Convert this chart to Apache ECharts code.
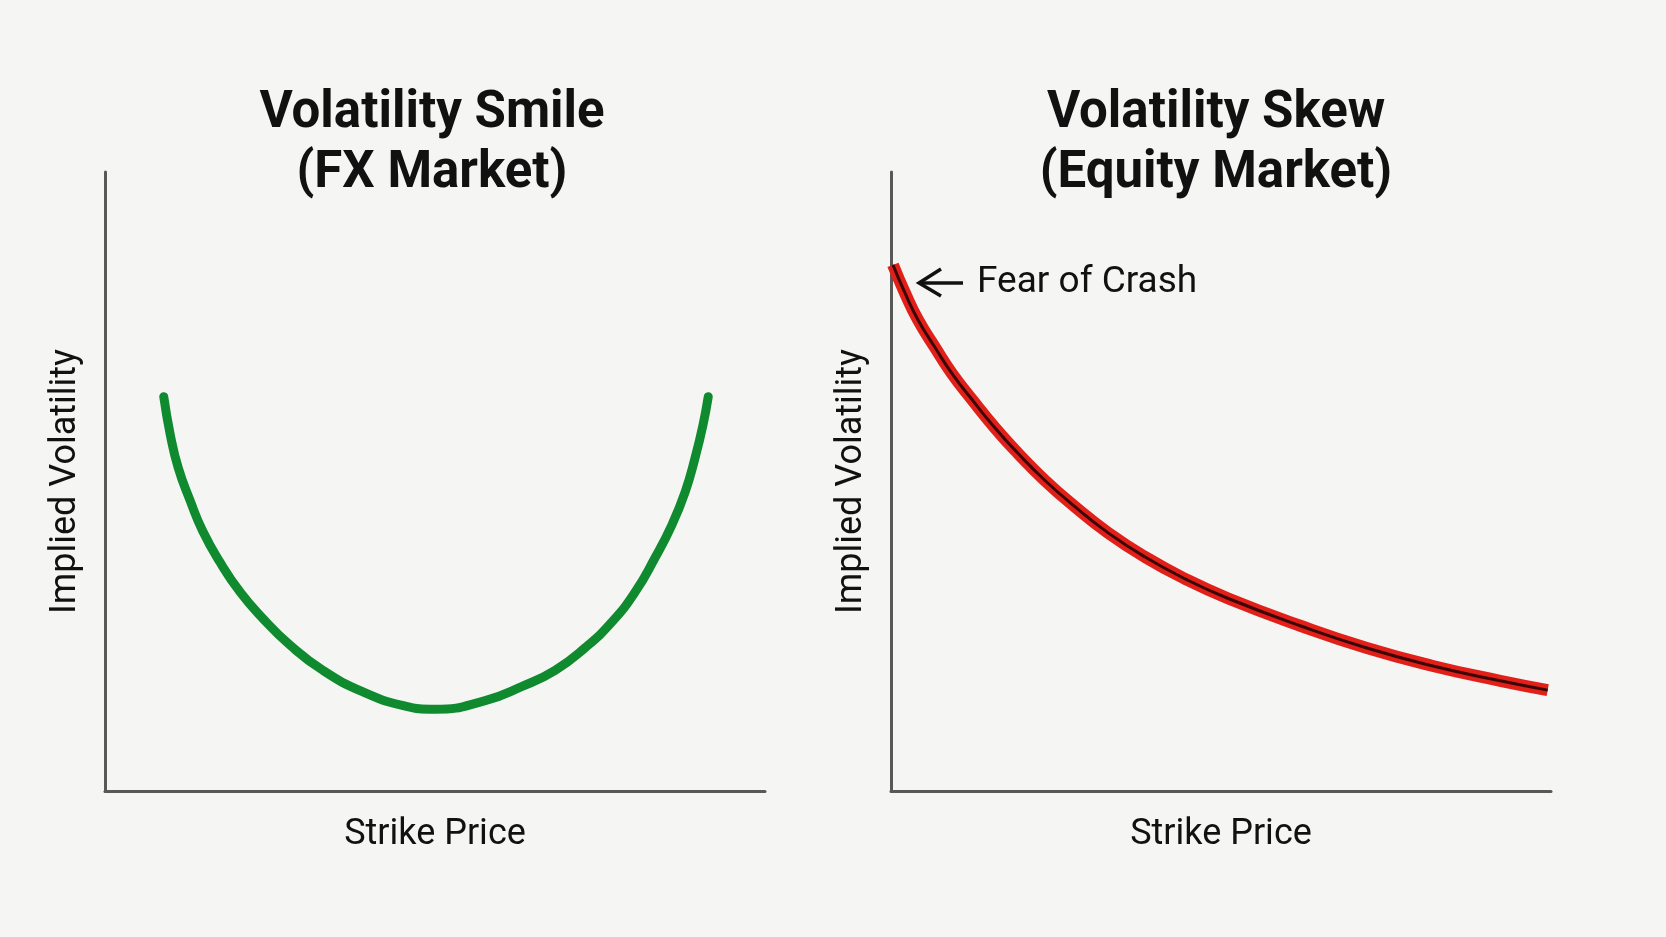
<!DOCTYPE html>
<html>
<head>
<meta charset="utf-8">
<script src="https://cdn.jsdelivr.net/npm/echarts@6/dist/echarts.min.js"></script>
<style>
  html, body { margin: 0; padding: 0; background: #f5f5f3; }
  #chart { width: 1666px; height: 937px; }
</style>
</head>
<body>
<div id="chart"></div>
<script>
// smile (FX market): strike position vs implied vol, both on a 0-100 scale
var smileStrike = [8.9, 9.9, 11.1, 12.9, 14.8, 17.4, 20.5, 23.9, 28.0, 33.0, 39.1, 45.2, 50.0,
                   57.6, 63.2, 68.2, 72.7, 76.8, 80.3, 83.3, 85.9, 87.9, 89.4, 90.6, 91.4];
var smileVol    = [63.7, 57.5, 52.2, 46.9, 42.0, 37.0, 32.1, 27.9, 23.6, 19.5, 16.0, 13.8, 13.2,
                   14.6, 16.9, 19.5, 23.1, 27.3, 32.1, 37.6, 43.0, 48.3, 53.8, 59.1, 63.7];

// skew (equity market)
var skewStrike = [0.3, 2.1, 4.1, 6.7, 9.2, 12.3, 15.8, 19.2, 23.3, 27.9, 32.9, 38.5, 44.5, 51.1,
                  62.0, 72.1, 82.1, 92.3, 99.5];
var skewVol    = [85.0, 80.5, 76.1, 71.6, 67.5, 63.2, 58.6, 54.6, 50.2, 45.9, 41.7, 37.8, 34.3, 31.1,
                  26.7, 23.1, 20.2, 17.8, 16.3];

var titles = ['Volatility Smile\n(FX Market)', 'Volatility Skew\n(Equity Market)'];
var xName = 'Strike Price';
var yName = 'Implied Volatility';
var note = 'Fear of Crash';

function pairs(xs, ys) {
    var out = [], i;
    for (i = 0; i < xs.length; i++) {
        out.push([xs[i], ys[i]]);
    }
    return out;
}

var font = 'Roboto, "Liberation Sans", Arial, sans-serif';
var axisColor = '#585858';

function xAxisOpt(idx) {
    return {
        type: 'value', gridIndex: idx, min: 0, max: 100,
        name: xName, nameLocation: 'middle', nameGap: 26,
        nameTextStyle: { fontSize: 36, color: '#111', fontFamily: font },
        axisLine: { show: true, onZero: false, lineStyle: { color: axisColor, width: 3 } },
        axisTick: { show: false }, axisLabel: { show: false }, splitLine: { show: false }
    };
}

function yAxisOpt(idx) {
    return {
        type: 'value', gridIndex: idx, min: 0, max: 100,
        name: yName, nameLocation: 'middle', nameGap: 21, nameRotate: 90,
        nameTextStyle: { fontSize: 36, color: '#111', fontFamily: font },
        axisLine: { show: true, onZero: false, lineStyle: { color: axisColor, width: 3 } },
        axisTick: { show: false }, axisLabel: { show: false }, splitLine: { show: false }
    };
}

var myChart = echarts.init(document.getElementById('chart'), null, { renderer: 'canvas' });

var option = {
    backgroundColor: '#f5f5f3',
    animation: false,
    title: [
        {
            text: titles[0], left: 432, top: 84, textAlign: 'center', padding: 0,
            textStyle: { fontSize: 51, fontWeight: 'bold', color: '#111', lineHeight: 60, fontFamily: font }
        },
        {
            text: titles[1], left: 1216, top: 84, textAlign: 'center', padding: 0,
            textStyle: { fontSize: 51, fontWeight: 'bold', color: '#111', lineHeight: 60, fontFamily: font }
        }
    ],
    grid: [
        { left: 105, top: 172, width: 660, height: 619 },
        { left: 891, top: 172, width: 660, height: 619 }
    ],
    xAxis: [xAxisOpt(0), xAxisOpt(1)],
    yAxis: [yAxisOpt(0), yAxisOpt(1)],
    series: [
        {
            type: 'line', xAxisIndex: 0, yAxisIndex: 0,
            data: pairs(smileStrike, smileVol),
            smooth: 0.5, showSymbol: false,
            lineStyle: { color: '#108a2e', width: 9, cap: 'round' }
        },
        {
            type: 'line', xAxisIndex: 1, yAxisIndex: 1,
            data: pairs(skewStrike, skewVol),
            smooth: 0.5, showSymbol: false,
            lineStyle: { color: '#e2201a', width: 12, cap: 'butt' }
        },
        {
            type: 'line', xAxisIndex: 1, yAxisIndex: 1,
            data: pairs(skewStrike, skewVol),
            smooth: 0.5, showSymbol: false,
            lineStyle: { color: '#3d0606', width: 3 }
        }
    ],
    graphic: [
        {
            type: 'line',
            shape: { x1: 963, y1: 283, x2: 919, y2: 283 },
            style: { stroke: '#111', lineWidth: 3.5 }
        },
        {
            type: 'polyline',
            shape: { points: [[941, 269], [919, 283], [941, 296]] },
            style: { stroke: '#111', lineWidth: 3.5, fill: null }
        },
        {
            type: 'text',
            style: { text: note, x: 977, y: 283, verticalAlign: 'middle', fill: '#111', font: '37px ' + font }
        }
    ]
};

myChart.setOption(option);
</script>
</body>
</html>
